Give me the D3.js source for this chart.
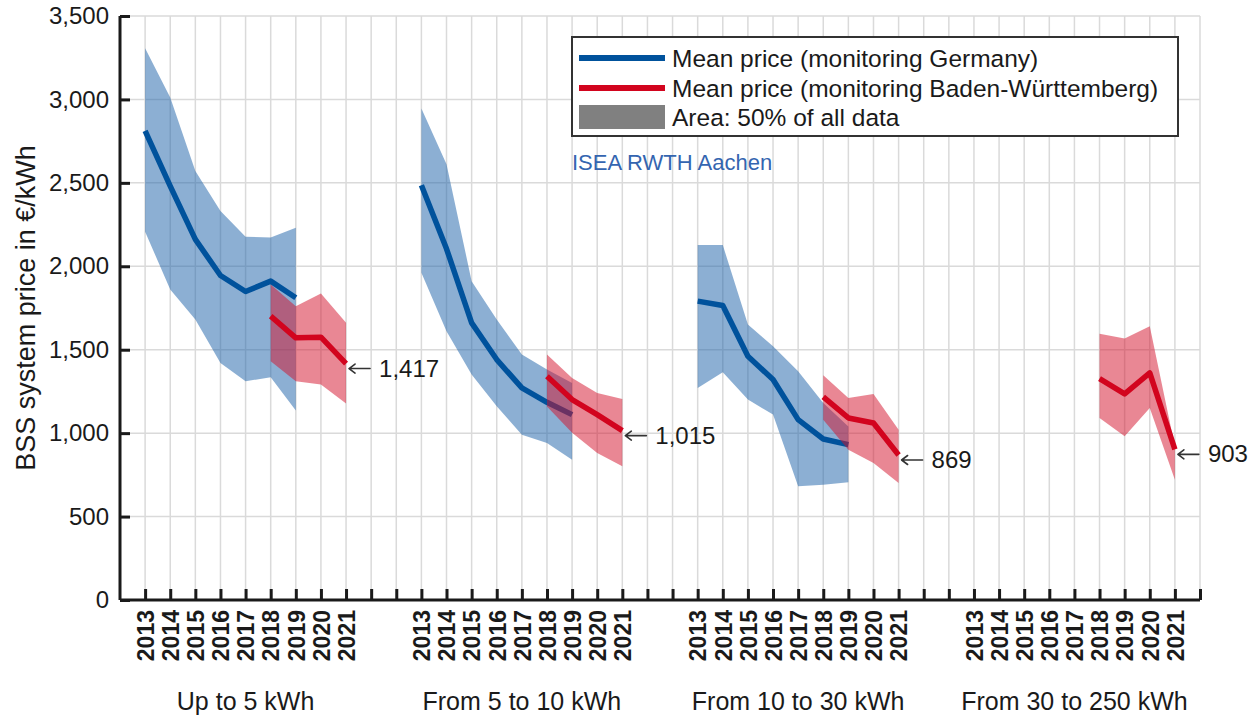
<!DOCTYPE html>
<html><head><meta charset="utf-8">
<script src="https://cdn.jsdelivr.net/npm/d3@7"></script>
<style>
body{margin:0;background:#fff;}
text{font-family:"Liberation Sans",Arial,sans-serif;fill:#1a1a1a;}
</style></head>
<body><svg id="c" width="1253" height="719"></svg>
<script>
const years = ["2013","2014","2015","2016","2017","2018","2019","2020","2021"];
const groups = ["Up to 5 kWh","From 5 to 10 kWh","From 10 to 30 kWh","From 30 to 250 kWh"];
const yTicks = [0,500,1000,1500,2000,2500,3000,3500];

// Germany monitoring (2013-2019)
const deMean = [
  [2811,2480,2161,1945,1849,1911,1811,null,null],
  [2485,2105,1661,1441,1271,1185,1111,null,null],
  [1791,1765,1461,1321,1081,965,931,null,null],
  [null,null,null,null,null,null,null,null,null]
];
const deHigh = [
  [3306,3012,2571,2331,2177,2173,2231,null,null],
  [2946,2611,1911,1681,1471,1381,1300,null,null],
  [2127,2127,1651,1521,1371,1180,1040,null,null],
  [null,null,null,null,null,null,null,null,null]
];
const deLow = [
  [2207,1861,1681,1421,1311,1335,1135,null,null],
  [1961,1611,1351,1161,991,941,841,null,null],
  [1271,1365,1201,1111,681,691,705,null,null],
  [null,null,null,null,null,null,null,null,null]
];
// Baden-Württemberg monitoring (2018-2021)
const bwMean = [
  [null,null,null,null,null,1701,1571,1575,1417],
  [null,null,null,null,null,1341,1201,1111,1015],
  [null,null,null,null,null,1217,1091,1061,869],
  [null,null,null,null,null,1327,1235,1361,903]
];
const bwHigh = [
  [null,null,null,null,null,1891,1761,1837,1661],
  [null,null,null,null,null,1471,1331,1241,1205],
  [null,null,null,null,null,1347,1211,1235,1021],
  [null,null,null,null,null,1595,1567,1641,920]
];
const bwLow = [
  [null,null,null,null,null,1431,1311,1291,1177],
  [null,null,null,null,null,1160,1003,881,801],
  [null,null,null,null,null,1080,901,821,701],
  [null,null,null,null,null,1091,981,1151,720]
];
const lastLabels = ["1,417","1,015","869","903"];
const legendItems = ["Mean price (monitoring Germany)","Mean price (monitoring Baden-Württemberg)","Area: 50% of all data"];

const svg = d3.select("#c");
const x = d3.scaleLinear().domain([0,43]).range([120,1200]);
const y = d3.scaleLinear().domain([0,3500]).range([600,16]);
const pos = (g,i) => 1 + 11*g + i;

// grid
const grid = svg.append("g");
grid.selectAll("line.v").data(d3.range(1,44)).join("line")
  .attr("x1",d=>x(d)).attr("x2",d=>x(d)).attr("y1",y(3500)).attr("y2",y(0))
  .attr("stroke","#dadada").attr("stroke-width",1.5);
grid.selectAll("line.h").data(yTicks.slice(1)).join("line")
  .attr("x1",x(0)).attr("x2",x(43)).attr("y1",d=>y(d)).attr("y2",d=>y(d))
  .attr("stroke","#dadada").attr("stroke-width",1.5);

const BLUE="#00529c", RED="#d2041e";
function toPts(g, lo, hi, mean){
  return years.map((yr,i)=>({p:pos(g,i), lo:lo[g][i], hi:hi[g][i], m:mean[g][i]}));
}
const area = d3.area().defined(d=>d.lo!=null).x(d=>x(d.p)).y0(d=>y(d.lo)).y1(d=>y(d.hi));
const line = d3.line().defined(d=>d.m!=null).x(d=>x(d.p)).y(d=>y(d.m));

const plot = svg.append("g");
for (let g=0; g<4; g++){
  const de = toPts(g, deLow, deHigh, deMean);
  const bw = toPts(g, bwLow, bwHigh, bwMean);
  plot.append("path").datum(de).attr("d",area).attr("fill","#1a5fa8").attr("fill-opacity",0.5);
  plot.append("path").datum(de).attr("d",line).attr("fill","none").attr("stroke",BLUE).attr("stroke-width",5.5).attr("stroke-linejoin","round");
  plot.append("path").datum(bw).attr("d",area).attr("fill","#d40f2a").attr("fill-opacity",0.5);
  plot.append("path").datum(bw).attr("d",line).attr("fill","none").attr("stroke",RED).attr("stroke-width",5.5).attr("stroke-linejoin","round");
  // annotation: arrow pointing at last value + label
  const px = x(pos(g,8)), py = y(bwMean[g][8]);
  const ax = px + 3, ay = py + 5;
  plot.append("path").attr("d",`M${ax},${ay}h21M${ax},${ay}l6,-4.5M${ax},${ay}l6,4.5`)
    .attr("fill","none").attr("stroke","#333").attr("stroke-width",1.6).attr("stroke-linecap","round");
  plot.append("text").attr("x",px+33).attr("y",py+13).attr("font-size",24).text(lastLabels[g]);
}

// axes
const yAxis = d3.axisLeft(y).tickValues(yTicks).tickFormat(d3.format(",")).tickSize(-10).tickPadding(11);
const ya = svg.append("g").attr("transform",`translate(${x(0)},0)`).call(yAxis);
ya.select(".domain").attr("stroke","#1a1a1a").attr("stroke-width",3).attr("d",`M0,${y(3500)}V${y(0)}`);
ya.selectAll(".tick line").attr("stroke","#1a1a1a").attr("stroke-width",3);
ya.selectAll(".tick text").attr("font-size",24).attr("font-family","Liberation Sans, Arial, sans-serif").attr("fill","#222");

const tickLabel = d => { const k=(d-1)%11; return k<9 ? years[k] : ""; };
const xAxis = d3.axisBottom(x).tickValues(d3.range(1,44)).tickFormat(tickLabel).tickSize(-11).tickPadding(0);
const xa = svg.append("g").attr("transform",`translate(0,${y(0)})`).call(xAxis);
xa.select(".domain").attr("stroke","#1a1a1a").attr("stroke-width",3).attr("d",`M${x(0)},0H${x(43)}`);
xa.selectAll(".tick line").attr("stroke","#1a1a1a").attr("stroke-width",3);
xa.selectAll(".tick text").attr("font-size",23).attr("font-weight","bold").attr("fill","#2a2a2a")
  .attr("font-family","Liberation Sans, Arial, sans-serif")
  .attr("text-anchor","end").attr("transform","translate(0,10) rotate(-90)").attr("x",0).attr("y",0).attr("dy","0.36em");

// group labels
svg.selectAll("text.grp").data(groups).join("text").attr("class","grp")
  .attr("x",(d,g)=>x(pos(g,4))).attr("y",710).attr("text-anchor","middle").attr("font-size",25).text(d=>d);

// y title
svg.append("text").attr("transform","translate(35,308) rotate(-90)").attr("text-anchor","middle")
  .attr("font-size",27).text("BSS system price in €/kWh");

// legend
const lg = svg.append("g");
lg.append("rect").attr("x",572).attr("y",37).attr("width",606).attr("height",99)
  .attr("fill","#fff").attr("stroke","#333").attr("stroke-width",2);
const rowsY=[58,88,117];
lg.append("line").attr("x1",579).attr("x2",665).attr("y1",rowsY[0]).attr("y2",rowsY[0]).attr("stroke",BLUE).attr("stroke-width",6);
lg.append("line").attr("x1",579).attr("x2",665).attr("y1",rowsY[1]).attr("y2",rowsY[1]).attr("stroke",RED).attr("stroke-width",6);
lg.append("rect").attr("x",579).attr("y",rowsY[2]-12).attr("width",86).attr("height",24).attr("fill","#808080");
lg.selectAll("text").data(legendItems).join("text").attr("x",672).attr("y",(d,i)=>rowsY[i]).attr("dy","0.35em")
  .attr("font-size",24.5).text(d=>d);

svg.append("text").attr("x",572).attr("y",170).attr("font-size",22).style("fill","#3465b0").text("ISEA RWTH Aachen");
</script></body></html>
